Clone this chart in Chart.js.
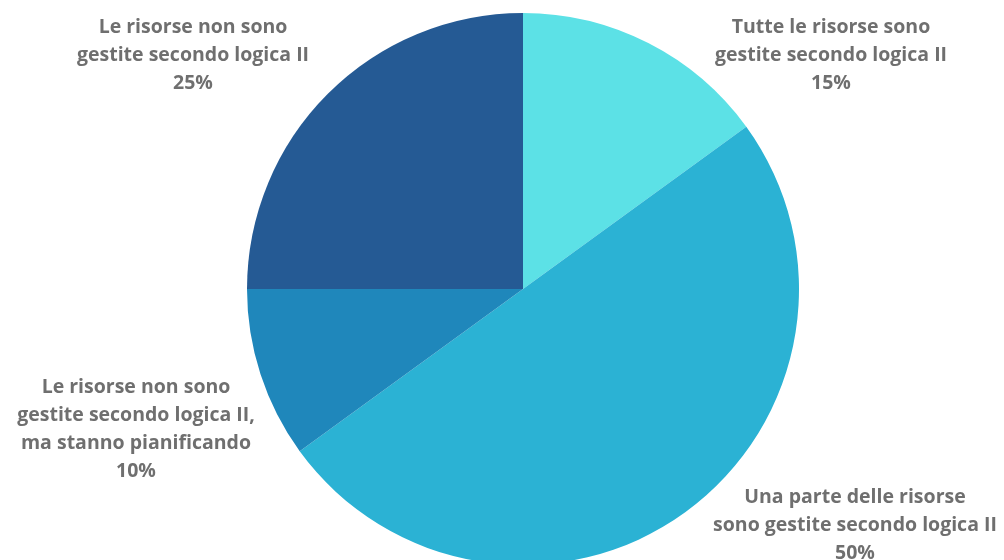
<!DOCTYPE html>
<html lang="it">
<head>
<meta charset="utf-8">
<script src="https://cdn.jsdelivr.net/npm/chart.js@4/dist/chart.umd.min.js"></script>
<style>
    html, body { margin: 0; padding: 0; background: #fff; overflow: hidden; }
    #wrap { width: 1004px; height: 600px; position: relative; }
</style>
</head>
<body>
<div id="wrap"><canvas id="torta" width="1004" height="600"></canvas></div>
<script>
// --- Dati del grafico ---
const categorie = [
    ['Tutte le risorse sono', 'gestite secondo logica II'],
    ['Una parte delle risorse', 'sono gestite secondo logica II'],
    ['Le risorse non sono', 'gestite secondo logica II,', 'ma stanno pianificando'],
    ['Le risorse non sono', 'gestite secondo logica II']
];
const percentuali = [15, 50, 10, 25];
const colori = ['#5ce1e6', '#2bb2d4', '#1f87bb', '#255a94'];

// Posizione delle etichette (centro del blocco di testo)
const posEtichette = [
    { x: 831, y: 55 },
    { x: 855, y: 525 },
    { x: 136, y: 429 },
    { x: 193, y: 55 }
];

const etichettePlugin = {
    id: 'etichette',
    afterDraw(chart) {
        const ctx = chart.ctx;
        ctx.save();
        ctx.font = 'bold 19.5px "Open Sans", sans-serif';
        ctx.fillStyle = '#6f6f6f';
        ctx.textAlign = 'center';
        ctx.textBaseline = 'middle';
        const interlinea = 28;
        chart.data.labels.forEach((righe, i) => {
            const testo = righe.concat([chart.data.datasets[0].data[i] + '%']);
            const p = posEtichette[i];
            const y0 = p.y - (testo.length - 1) * interlinea / 2;
            testo.forEach((r, j) => ctx.fillText(r, p.x, y0 + j * interlinea));
        });
        ctx.restore();
    }
};

new Chart(document.getElementById('torta'), {
    type: 'pie',
    data: {
        labels: categorie,
        datasets: [{
            data: percentuali,
            backgroundColor: colori,
            borderWidth: 0
        }]
    },
    options: {
        responsive: false,
        animation: false,
        layout: { padding: { top: 13, bottom: 35, left: 247, right: 205 } },
        plugins: {
            legend: { display: false },
            tooltip: { enabled: false }
        }
    },
    plugins: [etichettePlugin]
});
</script>
</body>
</html>
